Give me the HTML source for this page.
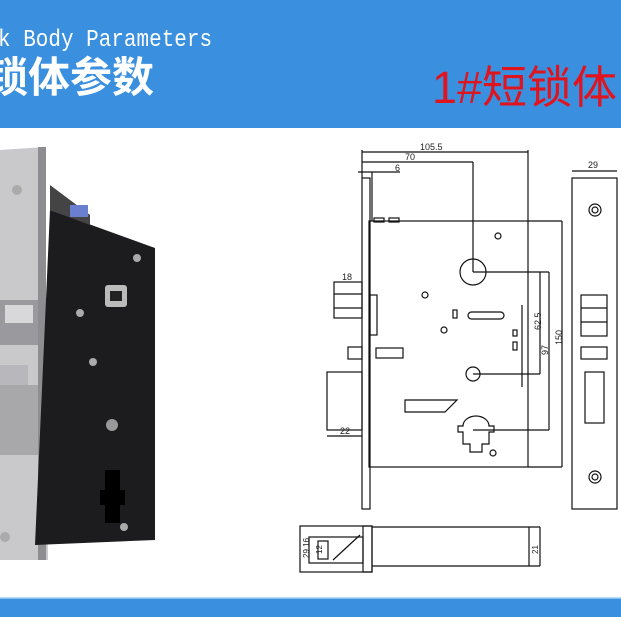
<!DOCTYPE html>
<html><head><meta charset="utf-8"><style>
html,body{margin:0;padding:0;background:#fff;}
body{width:621px;height:621px;overflow:hidden;position:relative;font-family:"Liberation Sans",sans-serif;}
</style></head><body>
<svg width="621" height="621" viewBox="0 0 621 621" xmlns="http://www.w3.org/2000/svg">
<rect x="0" y="0" width="621" height="128" fill="#3a8fdf"/>
<text x="-2" y="46" font-family="Liberation Mono, monospace" font-size="21" fill="#fff" transform="scale(1,1.15)" transform-origin="0 46">k Body Parameters</text>
<text x="-14" y="92" font-family="Liberation Sans, Noto Sans CJK SC, sans-serif" font-weight="bold" font-size="42" fill="#fff">锁体参数</text>
<text x="432" y="103" font-family="Liberation Sans, Noto Sans CJK SC, sans-serif" font-size="45" fill="#e0141e">1#短锁体</text>
<rect x="0" y="598" width="621" height="19" fill="#3a8fdf"/>
<line x1="0" y1="598" x2="621" y2="598" stroke="#9cd0f5" stroke-width="1.5"/>

<polygon points="0,150 45,147 48,560 0,560" fill="#c9c9cc"/>
<rect x="38" y="147" width="8" height="413" fill="#8e8e92"/>
<polygon points="50,210 155,248 155,540 35,545" fill="#1c1c1e"/>
<polygon points="50,185 90,215 90,225 50,210" fill="#444"/>
<rect x="70" y="205" width="18" height="12" fill="#6a7fd0"/>
<rect x="0" y="300" width="38" height="45" fill="#9a9a9e"/>
<rect x="5" y="305" width="28" height="18" fill="#d8d8da"/>
<rect x="0" y="365" width="28" height="20" fill="#b8b8bc"/>
<rect x="0" y="385" width="38" height="70" fill="#a8a8ab"/>
<circle cx="17" cy="190" r="5" fill="#aaa"/><circle cx="5" cy="537" r="5" fill="#aaa"/>
<rect x="105" y="285" width="22" height="22" rx="3" fill="#bbb"/><rect x="110" y="291" width="12" height="10" fill="#222"/>
<circle cx="137" cy="258" r="4" fill="#aaa"/><circle cx="80" cy="313" r="4" fill="#aaa"/><circle cx="93" cy="362" r="4" fill="#aaa"/>
<circle cx="112" cy="425" r="6" fill="#999"/>
<circle cx="124" cy="527" r="4" fill="#aaa"/>
<path d="M105 470 h15 v20 h5 v15 h-5 v18 h-15 v-18 h-5 v-15 h5z" fill="#000"/>

<g fill="none" stroke="#111" stroke-width="1.2">
<line x1="362" y1="152" x2="528" y2="152"/><text x="420" y="150" font-size="9" fill="#222" stroke="none">105.5</text>
<line x1="362" y1="162" x2="473" y2="162"/><text x="405" y="160" font-size="9" fill="#222" stroke="none">70</text>
<line x1="358" y1="172" x2="400" y2="172"/><text x="395" y="171" font-size="9" fill="#222" stroke="none">6</text>
<line x1="362" y1="150" x2="362" y2="178"/><line x1="528" y1="150" x2="528" y2="221"/>
<line x1="473" y1="162" x2="473" y2="272"/>
<rect x="362" y="178" width="8" height="331"/>
<line x1="372" y1="172" x2="372" y2="221"/>
<rect x="369" y="221" width="159" height="246"/>
<rect x="374" y="218" width="10" height="4"/><rect x="389" y="218" width="10" height="4"/>
<line x1="528" y1="221" x2="562" y2="221"/><line x1="528" y1="467" x2="562" y2="467"/>
<line x1="562" y1="221" x2="562" y2="467"/><text x="562" y="345" font-size="9" fill="#222" stroke="none" transform="rotate(-90 562 345)">150</text>
<circle cx="473" cy="272" r="13"/><circle cx="473" cy="374" r="7"/>
<line x1="473" y1="272" x2="549" y2="272"/><line x1="473" y1="374" x2="540" y2="374"/><line x1="473" y1="430" x2="549" y2="430"/>
<line x1="540" y1="272" x2="540" y2="374"/><line x1="549" y1="272" x2="549" y2="430"/>
<text x="541" y="330" font-size="9" fill="#222" stroke="none" transform="rotate(-90 541 330)">62.5</text>
<text x="548" y="355" font-size="9" fill="#222" stroke="none" transform="rotate(-90 548 355)">97</text>
<circle cx="498" cy="236" r="3"/><circle cx="425" cy="295" r="3"/><circle cx="444" cy="330" r="3"/><circle cx="493" cy="453" r="3"/>
<rect x="453" y="310" width="4" height="8"/><rect x="468" y="312" width="36" height="7" rx="3.5"/>
<rect x="513" y="330" width="4" height="6"/><rect x="513" y="342" width="4" height="8"/>
<rect x="376" y="348" width="27" height="10"/>
<polygon points="405,400 457,400 445,412 405,412"/>
<path d="M463 426 a13 10 0 0 1 26 0 h5 v6 h-5 v12 h-7 v8 h-12 v-8 h-7 v-12 h-5 v-6z"/>
<line x1="522" y1="305" x2="522" y2="387"/>
<rect x="334" y="282" width="28" height="36"/><line x1="334" y1="294" x2="362" y2="294"/><line x1="334" y1="308" x2="362" y2="308"/>
<text x="342" y="280" font-size="9" fill="#222" stroke="none">18</text>
<rect x="348" y="347" width="14" height="12"/>
<rect x="327" y="372" width="35" height="58"/>
<text x="340" y="434" font-size="9" fill="#222" stroke="none">22</text>
<line x1="327" y1="436" x2="362" y2="436"/>
<rect x="370" y="295" width="7" height="40"/>
<rect x="572" y="178" width="45" height="331"/>
<line x1="572" y1="171" x2="617" y2="171"/><text x="588" y="168" font-size="9" fill="#222" stroke="none">29</text>
<circle cx="595" cy="210" r="6"/><circle cx="595" cy="210" r="3"/>
<circle cx="595" cy="477" r="6"/><circle cx="595" cy="477" r="3"/>
<rect x="581" y="295" width="26" height="41"/><line x1="581" y1="308" x2="607" y2="308"/><line x1="581" y1="322" x2="607" y2="322"/>
<rect x="581" y="347" width="26" height="12"/>
<rect x="585" y="372" width="19" height="51"/>
<rect x="300" y="526" width="72" height="46"/><rect x="363" y="526" width="9" height="46"/>
<rect x="309" y="537" width="54" height="26"/><rect x="318" y="541" width="10" height="18"/>
<line x1="372" y1="527" x2="540" y2="527"/><line x1="372" y1="566" x2="540" y2="566"/><line x1="529" y1="527" x2="529" y2="566"/><line x1="540" y1="527" x2="540" y2="566"/>
<line x1="333" y1="560" x2="360" y2="535"/>
<text x="309" y="558" font-size="8" fill="#222" stroke="none" transform="rotate(-90 309 558)">29 16</text>
<text x="322" y="554" font-size="8" fill="#222" stroke="none" transform="rotate(-90 322 554)">12</text>
<text x="538" y="554" font-size="8" fill="#222" stroke="none" transform="rotate(-90 538 554)">21</text>
</g>
</svg>
</body></html>
